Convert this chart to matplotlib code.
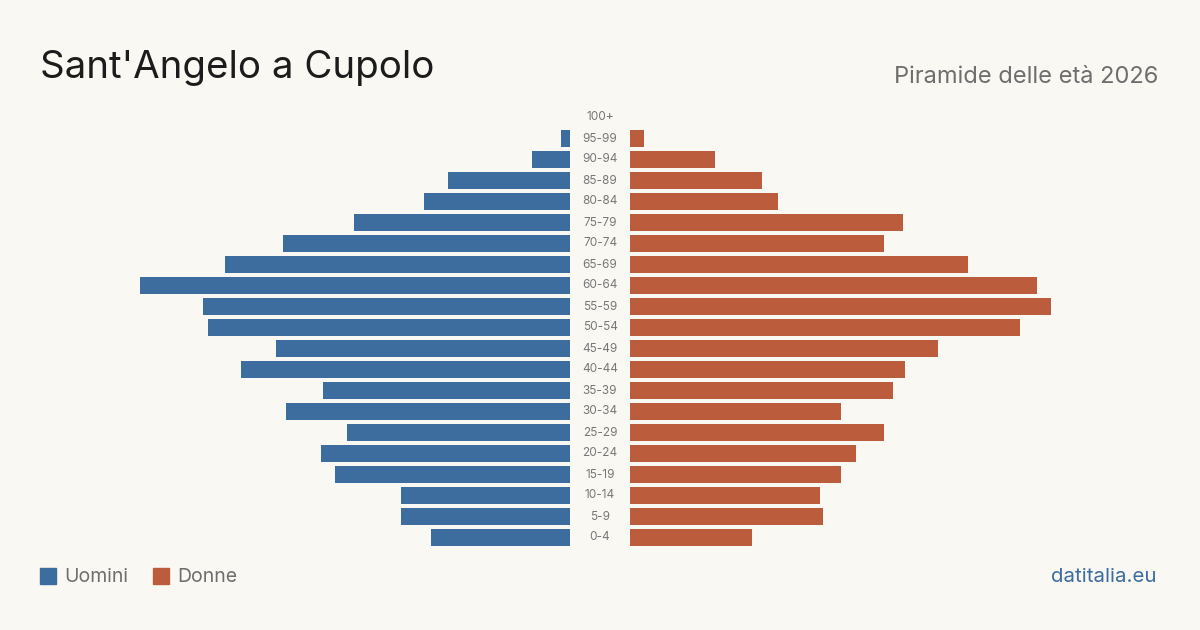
import matplotlib.pyplot as plt

plt.rcParams['font.family'] = ['Inter', 'DejaVu Sans']

ages = ['0-4', '5-9', '10-14', '15-19', '20-24', '25-29', '30-34', '35-39',
        '40-44', '45-49', '50-54', '55-59', '60-64', '65-69', '70-74',
        '75-79', '80-84', '85-89', '90-94', '95-99', '100+']
men = [139, 169, 169, 235, 249, 223, 284, 247, 329, 294, 362, 367, 430,
       345, 287, 216, 146, 122, 38, 9, 0]
women = [122, 193, 190, 211, 226, 254, 211, 263, 275, 308, 390, 421, 407,
         338, 254, 273, 148, 132, 85, 14, 0]

bg = '#f9f8f3'
blue = '#3d6c9e'
orange = '#bb5d3c'

W, H = 1200, 630
fig = plt.figure(figsize=(12, 6.3), dpi=100, facecolor=bg)

row_top, row_bot = 117.5, 537.5
step = (row_bot - row_top) / (len(ages) - 1)
ax_bottom = 1 - (row_bot + step / 2) / H
ax_height = (row_bot - row_top + step) / H

xmax = 530
axl = fig.add_axes([(570 - xmax) / W, ax_bottom, xmax / W, ax_height])
axr = fig.add_axes([630 / W, ax_bottom, xmax / W, ax_height])
y = list(range(len(ages)))
axl.barh(y, men, height=0.8, color=blue)
axr.barh(y, women, height=0.8, color=orange)
axl.set_xlim(xmax, 0)
axr.set_xlim(0, xmax)
for ax in (axl, axr):
    ax.set_ylim(-0.5, len(ages) - 0.5)
    ax.axis('off')
    ax.set_facecolor(bg)

for i, a in enumerate(ages):
    fy = 1 - (row_bot - i * step) / H
    fig.text(600 / W, fy, a, ha='center', va='center', fontsize=8.5, color='#777777')

fig.text(40 / W, 1 - 68 / H, "Sant'Angelo a Cupolo", fontsize=27.7, color='#1c1c1c',
         ha='left', va='center')
fig.text(1158 / W, 1 - 77 / H, 'Piramide delle età 2026', fontsize=17, color='#6e6e6e',
         ha='right', va='center')

# legend
fig.patches.append(plt.Rectangle((40 / W, 1 - 584 / H), 16 / W, 16 / H,
                                 transform=fig.transFigure, color=blue))
fig.text(64 / W, 1 - 577 / H, 'Uomini', fontsize=14, color='#6e6e6e', ha='left', va='center')
fig.patches.append(plt.Rectangle((153 / W, 1 - 584 / H), 16 / W, 16 / H,
                                 transform=fig.transFigure, color=orange))
fig.text(177 / W, 1 - 577 / H, 'Donne', fontsize=14, color='#6e6e6e', ha='left', va='center')

fig.text(1156 / W, 1 - 577 / H, 'datitalia.eu', fontsize=14.7, color=blue, ha='right', va='center')

fig.savefig('out.png', dpi=100, facecolor=bg)
